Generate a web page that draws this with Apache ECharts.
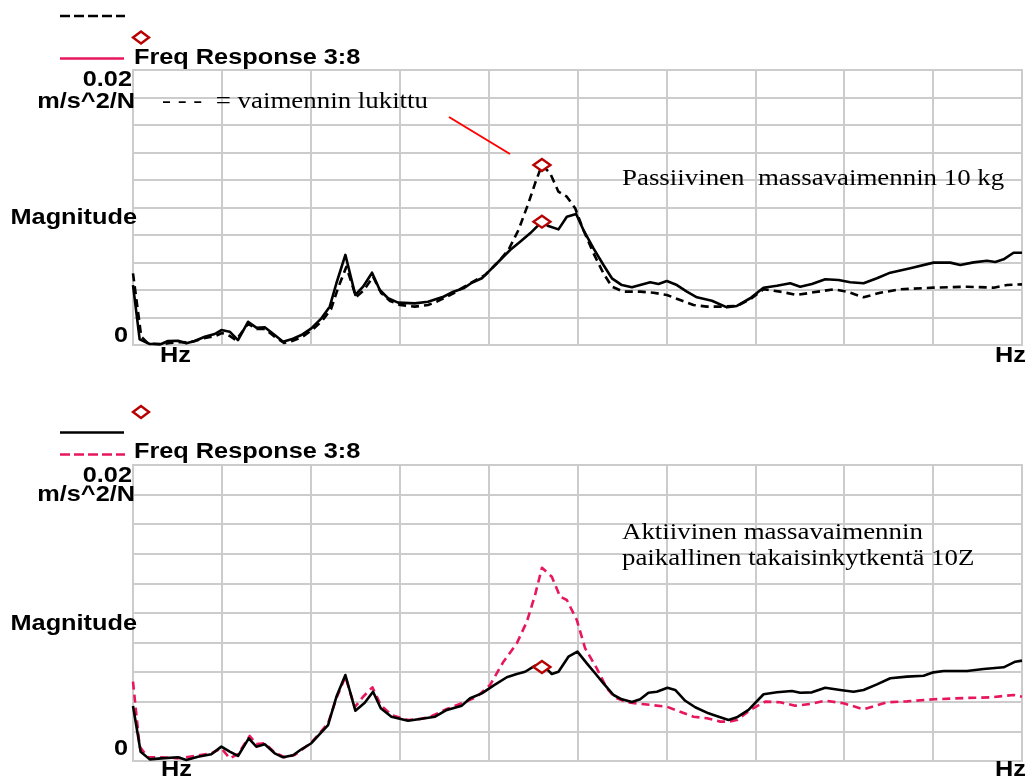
<!DOCTYPE html>
<html>
<head>
<meta charset="utf-8">
<title>Freq Response 3:8</title>
<script src="https://cdn.jsdelivr.net/npm/echarts@6/dist/echarts.min.js"></script>
<style>
  html, body { margin: 0; padding: 0; background: #ffffff; }
  #chart { width: 1031px; height: 780px; }
</style>
</head>
<body>
<div id="chart"></div>
<script>
// Frequency axis runs over 0..100 (relative units), magnitude in m/s^2/N.
const freqTicks = [0, 10, 20, 30, 40, 50, 60, 70, 80, 90, 100];
const magnitudeTicks = [0, 0.002, 0.004, 0.006, 0.008, 0.01, 0.012, 0.014, 0.016, 0.018, 0.02];
const markerFreq = 46;

// Upper panel: damper locked (dashed) and passive mass damper 10 kg (solid)
const lockedCurve = [
  [0,0.00521],[0.93,0.0006],[1.69,0.00012],[3.15,0.00004],[4.16,0.00015],[5.29,0.00022],
  [6.41,0.00018],[8.1,0.00051],[9.23,0.00065],[10.01,0.00087],[10.91,0.00065],[11.59,0.00036],
  [12.94,0.00153],[13.95,0.00116],[14.85,0.00116],[15.98,0.00058],[16.99,0.00015],[17.89,0.00029],
  [19.02,0.00058],[20.14,0.00109],[21.27,0.00175],[22.28,0.00262],[23.07,0.00415],[24.0,0.00569],
  [25.09,0.00349],[25.99,0.004],[27.01,0.00497],[27.91,0.00378],[28.92,0.0032],[30.04,0.00291],
  [31.7,0.00279],[33.19,0.00291],[34.17,0.00315],[36.04,0.00376],[37.92,0.00449],[39.61,0.00509],
  [41.11,0.00606],[42.23,0.00691],[43.36,0.00836],[44.48,0.01031],[45.23,0.01176],[46,0.01309],
  [46.92,0.01249],[47.86,0.01115],[48.8,0.01079],[49.74,0.00994],[50.67,0.00836],[51.8,0.00667],
  [52.92,0.00521],[53.87,0.00424],[55.17,0.00388],[57.05,0.00388],[58.55,0.0038],[60.05,0.00364],
  [61.55,0.00327],[63.05,0.00291],[64.56,0.00279],[66.05,0.00279],[67.93,0.00284],[69.43,0.00332],
  [70.92,0.00405],[72.8,0.00388],[74.68,0.00364],[76.55,0.00383],[78.8,0.00405],[80.31,0.00388],
  [82.18,0.00347],[84.06,0.0038],[86.31,0.00405],[90.05,0.00417],[93.81,0.00424],[96.8,0.00417],
  [98.31,0.00436],[100,0.00441]
];
const passiveCurve = [
  [0,0.00436],[0.75,0.00041],[1.88,0.00007],[3.18,0.00007],[3.94,0.00029],[5.06,0.00031],
  [6.0,0.00012],[6.94,0.00029],[8.07,0.0006],[9.19,0.0008],[9.94,0.00109],[10.88,0.00097],
  [11.81,0.00036],[12.94,0.00169],[13.87,0.00126],[14.82,0.00129],[15.94,0.00073],[16.88,0.00024],
  [17.81,0.00041],[18.94,0.00073],[20.06,0.00121],[21.19,0.00194],[22.13,0.00279],[22.88,0.00449],
  [23.89,0.00655],[25.01,0.00364],[25.88,0.00424],[26.89,0.00526],[27.76,0.004],[28.69,0.0034],
  [29.82,0.00308],[31.7,0.00303],[33.19,0.00315],[33.79,0.00327],[34.92,0.00351],[36.04,0.00388],
  [37.17,0.00412],[38.11,0.00453],[39.24,0.00485],[40.17,0.00545],[41.3,0.00618],[42.42,0.00691],
  [43.55,0.00751],[44.67,0.00812],[46,0.00897],[46.73,0.00865],[47.86,0.00841],[48.8,0.00933],
  [49.85,0.00953],[50.67,0.00836],[51.8,0.00703],[52.92,0.00582],[53.87,0.00485],[54.99,0.00436],
  [56.12,0.0042],[57.05,0.00436],[58.18,0.00456],[59.11,0.00444],[60.05,0.00465],[61.18,0.00436],
  [62.3,0.00388],[63.43,0.00347],[65.12,0.00322],[66.81,0.00274],[67.93,0.00284],[69.43,0.0034],
  [70.92,0.00417],[72.43,0.00431],[73.93,0.00449],[75.05,0.00424],[76.37,0.00444],[77.87,0.00478],
  [79.36,0.00473],[80.68,0.00456],[82.18,0.00449],[83.68,0.00485],[85.18,0.00526],[87.43,0.00558],
  [90.05,0.00599],[91.93,0.00599],[93.06,0.00582],[94.55,0.00601],[96.06,0.00613],[96.99,0.00604],
  [97.93,0.00623],[99.05,0.00671],[100,0.00671]
];

// Lower panel: reference response (red dashed) and active mass damper, local feedback 10Z (solid)
const referenceCurve = [
  [0,0.00536],[0.75,0.00097],[1.69,0.00025],[3.18,0.00025],[5.06,0.00018],[6.94,0.00034],
  [8.81,0.00052],[9.94,0.00086],[10.88,0.00018],[11.81,0.00047],[13.13,0.00169],[13.87,0.00115],
  [14.82,0.0012],[15.94,0.00056],[17.07,0.00025],[18.19,0.00041],[20.06,0.00124],[21.94,0.00255],
  [22.88,0.00424],[23.89,0.0057],[24.94,0.00363],[25.88,0.00434],[26.93,0.00498],[27.87,0.00378],
  [29.07,0.00311],[30.94,0.00277],[32.29,0.00284],[33.42,0.00299],[35.3,0.00351],[36.99,0.0039],
  [38.67,0.00434],[40.17,0.00514],[41.67,0.00671],[43.17,0.00795],[44.3,0.00941],[45.23,0.01122],
  [46,0.01306],[47.11,0.01245],[48.05,0.0111],[48.8,0.01088],[49.92,0.00953],[50.86,0.00761],
  [52.17,0.00626],[53.3,0.00491],[54.24,0.00428],[55.55,0.00397],[57.24,0.00385],[60.05,0.00367],
  [61.55,0.00333],[63.05,0.00299],[64.56,0.00289],[66.05,0.00266],[66.99,0.00266],[67.93,0.00277],
  [69.43,0.00345],[71.11,0.00401],[72.8,0.00397],[74.49,0.00374],[76.18,0.00385],[77.87,0.00407],
  [79.93,0.0039],[82.18,0.00349],[84.81,0.00397],[87.06,0.00403],[90.05,0.00417],[93.81,0.00426],
  [96.43,0.0043],[99.05,0.00446],[100,0.00434]
];
const activeCurve = [
  [0,0.00372],[0.86,0.00063],[1.88,0.00011],[3.18,0.00018],[5.06,0.00025],[6.0,0.00007],
  [7.31,0.00029],[8.81,0.00045],[9.94,0.00097],[10.88,0.00063],[11.81,0.00034],[13.02,0.00153],
  [13.87,0.00097],[14.82,0.00113],[15.94,0.00052],[16.88,0.00025],[18.0,0.00039],[18.94,0.00079],
  [20.06,0.0012],[21.94,0.00243],[22.88,0.00434],[23.89,0.00581],[25.01,0.0034],[26.07,0.00394],
  [27.0,0.00468],[27.87,0.00356],[29.07,0.00299],[30.94,0.00272],[32.29,0.00284],[33.98,0.00299],
  [35.3,0.00345],[36.99,0.00374],[37.92,0.00424],[39.24,0.00457],[40.54,0.00509],[42.05,0.00566],
  [43.17,0.00588],[44.11,0.00603],[45.23,0.00644],[46,0.00635],[46.47,0.00626],[47.11,0.00588],
  [47.86,0.00603],[48.98,0.00705],[49.99,0.00739],[51.05,0.0066],[51.98,0.00593],[52.92,0.00525],
  [54.05,0.00446],[54.99,0.00417],[56.12,0.00399],[57.05,0.00417],[57.98,0.00461],[58.93,0.00468],
  [60.12,0.00495],[60.99,0.0048],[62.12,0.00407],[63.24,0.00363],[64.74,0.00322],[65.3,0.00311],
  [66.99,0.00277],[67.93,0.00295],[69.24,0.00345],[70.93,0.00451],[72.43,0.00464],[74.12,0.00473],
  [75.05,0.00461],[76.37,0.00464],[77.87,0.00495],[79.55,0.0048],[81.05,0.00468],[82.18,0.0048],
  [83.68,0.00518],[85.18,0.00559],[87.06,0.0057],[88.93,0.00576],[90.05,0.00599],[91.18,0.00608],
  [93.81,0.00608],[95.68,0.00622],[97.93,0.00633],[99.25,0.00671],[100,0.00678]
];

const legendText = 'Freq Response 3:8';
const unitText = 'm/s^2/N';
const axisName = 'Magnitude';
const freqUnit = 'Hz';
const topNote = '- - -  = vaimennin lukittu';
const passiveNote = 'Passiivinen  massavaimennin 10 kg';
const activeNote = ['Aktiivinen massavaimennin', 'paikallinen takaisinkytkentä 10Z'];

const GRID_COLOR = '#cccccc';
const RED = '#e8175d';
const MARKER_RED = '#b80000';
const SANS = 'bold 22px "Liberation Sans", Arial, sans-serif';
const SERIF = '24px "Liberation Serif", "Times New Roman", serif';
const LINE_W = 2.6;

function pointAt(curve, x) {
  return curve.find(p => p[0] === x);
}

function makeAxes(gridIndex) {
  return {
    x: {
      type: 'value', gridIndex,
      min: freqTicks[0], max: freqTicks[freqTicks.length - 1],
      interval: freqTicks[1] - freqTicks[0],
      axisLine: { show: false }, axisTick: { show: false }, axisLabel: { show: false },
      splitLine: { show: true, lineStyle: { color: GRID_COLOR, width: 2 } }
    },
    y: {
      type: 'value', gridIndex,
      min: magnitudeTicks[0], max: magnitudeTicks[magnitudeTicks.length - 1],
      interval: magnitudeTicks[1] - magnitudeTicks[0],
      axisLine: { show: false }, axisTick: { show: false }, axisLabel: { show: false },
      splitLine: { show: true, lineStyle: { color: GRID_COLOR, width: 2 } }
    }
  };
}

const a0 = makeAxes(0), a1 = makeAxes(1);

function lineSeries(idx, data, color, dashed, z) {
  return {
    type: 'line', xAxisIndex: idx, yAxisIndex: idx, data,
    showSymbol: false, symbol: 'none', smooth: false, z,
    lineStyle: { color, width: LINE_W, type: dashed ? [8, 5] : 'solid', join: 'round' },
    emphasis: { disabled: true }, animation: false
  };
}

function markerSeries(idx, points) {
  return {
    type: 'scatter', xAxisIndex: idx, yAxisIndex: idx, data: points,
    symbol: 'diamond', symbolSize: [17, 12], z: 10,
    itemStyle: { color: '#ffffff', borderColor: MARKER_RED, borderWidth: 2.4, opacity: 1 },
    emphasis: { disabled: true }, animation: false
  };
}

function label(text, x, y, align, font, scaleX) {
  return {
    type: 'text', x, y, scaleX: scaleX || 1.15, z: 20,
    style: {
      text, font, fill: '#000000',
      textAlign: align, align: align,
      textVerticalAlign: 'middle', verticalAlign: 'middle'
    }
  };
}

function hline(x1, x2, y, color, dash) {
  return {
    type: 'line', z: 20,
    shape: { x1, y1: y, x2, y2: y },
    style: { stroke: color, lineWidth: LINE_W, lineDash: dash || null }
  };
}

function diamond(cx, cy) {
  return {
    type: 'polygon', z: 20,
    shape: { points: [[cx - 8, cy], [cx, cy - 6], [cx + 8, cy], [cx, cy + 6]] },
    style: { fill: '#ffffff', stroke: MARKER_RED, lineWidth: 2.4 }
  };
}

const graphics = [
  // upper legend
  hline(60, 125, 16, '#000000', [10, 4]),
  diamond(141, 37.5),
  hline(60, 124, 58.5, RED),
  label(legendText, 134, 58, 'left', SANS),
  // upper y-axis texts
  label('0.02', 132, 80, 'right', SANS),
  label(unitText, 135, 102, 'right', SANS),
  label(axisName, 137, 218, 'right', SANS),
  label('0', 128, 335.5, 'right', SANS),
  label(freqUnit, 160, 356, 'left', SANS),
  label(freqUnit, 1026, 356, 'right', SANS),
  // upper annotations
  label(topNote, 162, 102, 'left', SERIF, 1.12),
  label(passiveNote, 622, 178.5, 'left', SERIF, 1.12),
  {
    type: 'line', z: 20,
    shape: { x1: 449, y1: 117, x2: 510, y2: 154 },
    style: { stroke: '#ff0000', lineWidth: 2 }
  },
  // lower legend
  diamond(141, 412),
  hline(60, 124, 432.5, '#000000'),
  hline(60, 125, 454.5, RED, [10, 4]),
  label(legendText, 134, 452, 'left', SANS),
  // lower y-axis texts
  label('0.02', 132, 476, 'right', SANS),
  label(unitText, 135, 495, 'right', SANS),
  label(axisName, 137, 624, 'right', SANS),
  label('0', 128, 748.5, 'right', SANS),
  label(freqUnit, 161, 770, 'left', SANS),
  label(freqUnit, 1026, 770, 'right', SANS),
  // lower annotation
  label(activeNote[0], 622, 533, 'left', SERIF, 1.12),
  label(activeNote[1], 622, 559, 'left', SERIF, 1.12)
];

const chart = echarts.init(document.getElementById('chart'), null, { renderer: 'canvas' });
chart.setOption({
  backgroundColor: '#ffffff',
  animation: false,
  grid: [
    { left: 133, top: 70, width: 889, height: 275, show: true, borderColor: GRID_COLOR, borderWidth: 2, backgroundColor: 'transparent' },
    { left: 133, top: 465, width: 889, height: 296, show: true, borderColor: GRID_COLOR, borderWidth: 2, backgroundColor: 'transparent' }
  ],
  xAxis: [a0.x, a1.x],
  yAxis: [a0.y, a1.y],
  series: [
    lineSeries(0, lockedCurve, '#000000', true, 2),
    lineSeries(0, passiveCurve, '#000000', false, 3),
    markerSeries(0, [pointAt(lockedCurve, markerFreq), pointAt(passiveCurve, markerFreq)]),
    lineSeries(1, referenceCurve, RED, true, 2),
    lineSeries(1, activeCurve, '#000000', false, 3),
    markerSeries(1, [pointAt(activeCurve, markerFreq)])
  ],
  graphic: graphics
});
</script>
</body>
</html>
